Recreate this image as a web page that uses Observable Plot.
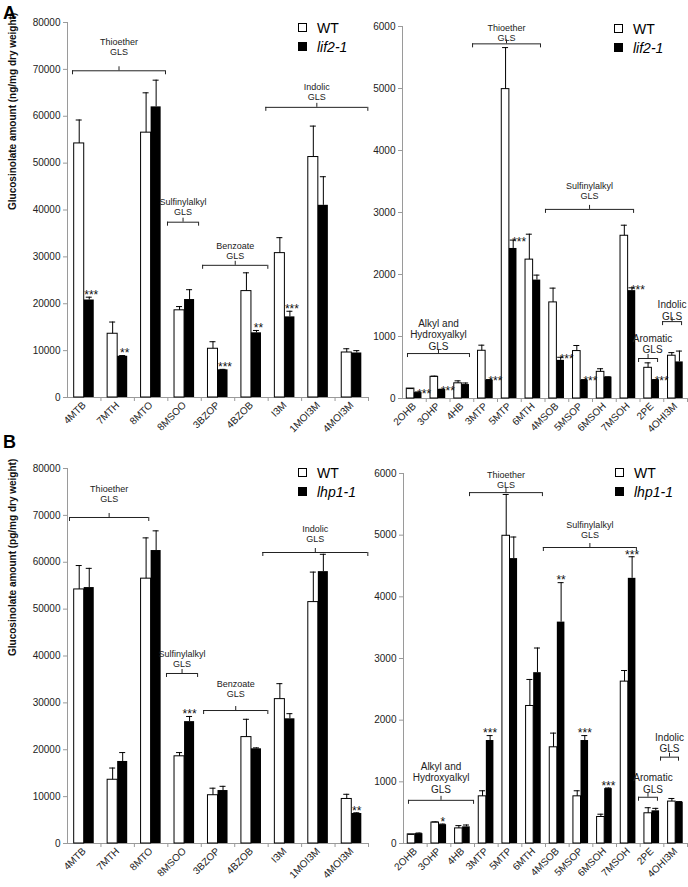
<!DOCTYPE html>
<html><head><meta charset="utf-8">
<script src="https://cdn.jsdelivr.net/npm/d3@7"></script>
<script src="https://cdn.jsdelivr.net/npm/@observablehq/plot@0.6"></script>
<style>
body{margin:0;background:#fff;font-family:"Liberation Sans",Arial,sans-serif;}
#root{position:relative;width:688px;height:887px;overflow:hidden;background:#fff;}
.panel{position:absolute;}
.letter{position:absolute;font-weight:bold;font-size:18px;line-height:18px;color:#000;}
.legend{position:absolute;font-size:14px;color:#000;}
.legend .row{display:flex;align-items:center;height:19px;}
.legend .sq{width:7px;height:7px;border:1px solid #000;margin-right:10px;}
</style></head>
<body><div id="root"></div>
<script>
// ---------- categories ----------
const catsLong = ["4MTB","7MTH","8MTO","8MSOO","3BZOP","4BZOB","I3M","1MOI3M","4MOI3M"];
const catsShort = ["2OHB","3OHP","4HB","3MTP","5MTP","6MTH","4MSOB","5MSOP","6MSOH","7MSOH","2PE","4OHI3M"];
const ticksLong = [0,10000,20000,30000,40000,50000,60000,70000,80000];
const ticksShort = [0,1000,2000,3000,4000,5000,6000];

// ---------- Panel A, long-chain (ng/mg) ----------
const aLongWT     = [54200,13600,56500,18600,10400,22700,30800,51300,9600];
const aLongWTErr  = [5000, 2500, 8500, 800,  1500, 3900, 3300, 6600, 800];
const aLongMut    = [20800,8800, 62000,20900,5900, 13800,17200,41000,9500];
const aLongMutErr = [600,  150,  5700, 2100, 100,  500,  1200, 6100, 500];
const aLongSig    = ["***","**","","","***","**","***","",""];

// ---------- Panel A, short-chain ----------
const aShortWT     = [160,350,245,770,4990,2240,1550,765,430,2625,495,690];
const aShortWTErr  = [0,  10, 40, 90, 670, 410, 230, 90, 50, 170, 80, 50];
const aShortMut    = [95, 145,225,295,2420,1910,615,295,345,1740,300,590];
const aShortMutErr = [10, 5,  25, 10, 135, 80,  50, 10, 5,  45,  5,  175];
const aShortSig    = ["***","***","","***","***","","***","***","","***","***",""];

// ---------- Panel B, long-chain (pg/mg) ----------
const bLongWT     = [54200,13600,56500,18600,10300,22700,30800,51500,9500];
const bLongWTErr  = [5100, 2500, 8700, 800,  1500, 3800, 3300, 6400, 1000];
const bLongMut    = [54600,17500,62500,26000,11300,20200,26600,58000,6400];
const bLongMutErr = [4100, 1900, 4200, 1100, 900,  200,  1100, 3700, 150];
const bLongSig    = ["","","","***","","","","","**"];

// ---------- Panel B, short-chain ----------
const bShortWT     = [148,340,245,765,4990,2230,1560,765,430,2625,490,680];
const bShortWTErr  = [0,  10, 45, 90, 670, 430, 230, 90, 45, 180, 90, 50];
const bShortMut    = [160,305,270,1670,4620,2770,3590,1670,890,4300,530,670];
const bShortMutErr = [10, 10, 30, 80, 350, 400, 640, 80, 10, 350, 40, 10];
const bShortSig    = ["","*","","***","","","**","***","***","***","",""];

// ---------- group brackets (x in category units, y / label level in data units) ----------
const bracketsALong = [
  {label:"Thioether\nGLS", x1:0.15, x2:2.93, y:69700, ly:73100},
  {label:"Sulfinylalkyl\nGLS", x1:2.99, x2:3.92, y:37400, ly:39000},
  {label:"Benzoate\nGLS", x1:4.04, x2:5.99, y:28200, ly:29500},
  {label:"Indolic\nGLS", x1:5.93, x2:8.98, y:61900, ly:63500}
];
const bracketsAShort = [
  {label:"Thioether\nGLS", x1:2.95, x2:5.81, y:5720, ly:5760},
  {label:"Sulfinylalkyl\nGLS", x1:6.02, x2:9.73, y:3050, ly:3210},
  {label:"Alkyl and\nHydroxyalkyl\nGLS", x1:0.21, x2:2.82, y:725, ly:790},
  {label:"Aromatic\nGLS", x1:9.94, x2:10.74, y:645, ly:726, lx:10.53},
  {label:"Indolic\nGLS", x1:10.95, x2:11.75, y:1240, ly:1274}
];
const bracketsBLong = [
  {label:"Thioether\nGLS", x1:0.06, x2:2.43, y:69550, ly:72900},
  {label:"Sulfinylalkyl\nGLS", x1:2.96, x2:3.89, y:36270, ly:37550},
  {label:"Benzoate\nGLS", x1:4.07, x2:5.99, y:28370, ly:31300},
  {label:"Indolic\nGLS", x1:5.84, x2:8.98, y:62080, ly:64400}
];
const bracketsBShort = [
  {label:"Thioether\nGLS", x1:2.79, x2:5.87, y:5690, ly:5760},
  {label:"Sulfinylalkyl\nGLS", x1:5.91, x2:9.84, y:4800, ly:4950},
  {label:"Alkyl and\nHydroxyalkyl\nGLS", x1:0.21, x2:2.96, y:700, ly:827},
  {label:"Aromatic\nGLS", x1:9.93, x2:10.73, y:750, ly:827, lx:10.54},
  {label:"Indolic\nGLS", x1:10.86, x2:11.62, y:1400, ly:1476}
];

const AXIS = "#9a9a9a";
const FONT = "'Liberation Sans', Arial, sans-serif";

function makePanel(o) {
  const n = o.cats.length;
  const rows = o.cats.map((c, i) => ({c, i, wt: o.wt[i], wtE: o.wtErr[i], mu: o.mut[i], muE: o.mutErr[i], sig: o.sig[i]}));
  const band = (o.width - o.marginLeft - o.marginRight) / n;
  const cap = o.capPx / band;
  const inset = o.inset;
  const cW = d => d.i + (inset + 0.5) / 2;
  const cM = d => d.i + (1.5 - inset) / 2;
  const mid = b => (b.x1 + b.x2) / 2;
  const hooks = o.brackets.flatMap(b => [{x: b.x1, y: b.y}, {x: b.x2, y: b.y}]);
  const bigLabel = b => o.bigLabels && !/Thioether|Sulfinyl/.test(b.label);
  const marks = [
    Plot.ruleY([0], {stroke: AXIS}),
    Plot.ruleX([0], {stroke: AXIS}),
    Plot.ruleX(d3.range(1, n + 1), {y1: 0, y2: 0, insetBottom: -4, stroke: AXIS}),
    Plot.axisY({ticks: o.yTicks, tickFormat: d3.format("d"), tickSize: 4, tickPadding: 3, stroke: AXIS, fill: "#222", fontSize: 10, label: null}),
    Plot.axisX({ticks: rows.map(d => d.i + 0.5), tickFormat: t => o.cats[Math.floor(t)], tickSize: 0, tickPadding: 6, tickRotate: -45, fontSize: 10, fill: "#222", label: null}),
    Plot.rect(rows, {x1: d => d.i + inset, x2: d => d.i + 0.5, y1: 0, y2: "wt", fill: "white", stroke: "black", strokeWidth: 1}),
    Plot.rect(rows, {x1: d => d.i + 0.5, x2: d => d.i + 1 - inset, y1: 0, y2: "mu", fill: "black"}),
    Plot.ruleX(rows, {x: cW, y1: "wt", y2: d => d.wt + d.wtE, stroke: "black"}),
    Plot.ruleY(rows, {y: d => d.wt + d.wtE, x1: d => cW(d) - cap, x2: d => cW(d) + cap, stroke: "black"}),
    Plot.ruleX(rows, {x: cM, y1: "mu", y2: d => d.mu + d.muE, stroke: "black"}),
    Plot.ruleY(rows, {y: d => d.mu + d.muE, x1: d => cM(d) - cap, x2: d => cM(d) + cap, stroke: "black"}),
    Plot.text(rows.filter(d => d.sig), {x: cM, y: d => d.mu + d.muE, text: "sig", dx: o.sigDx, dy: o.sigDy, fontSize: 12, fill: "#111"}),
    Plot.ruleY(o.brackets, {y: "y", x1: "x1", x2: "x2", stroke: "#222"}),
    Plot.ruleX(hooks, {x: "x", y1: "y", y2: "y", insetBottom: -4, stroke: "#222"}),
    Plot.ruleX(o.brackets, {x: mid, y1: "y", y2: "y", insetTop: -4, stroke: "#222"}),
    Plot.text(o.brackets, {x: b => b.lx ?? mid(b), y: "ly", text: "label", lineAnchor: "bottom", lineHeight: 1.12,
      fontSize: b => bigLabel(b) ? 10 : 9, fill: "#222"})
  ];
  if (o.yLabel) {
    marks.push(Plot.text([o.yLabel], {frameAnchor: "left", dx: o.titleDx, rotate: -90, fontWeight: "bold", fontSize: 10, fill: "#111"}));
  }
  return Plot.plot({
    width: o.width, height: o.height,
    marginLeft: o.marginLeft, marginRight: o.marginRight, marginTop: o.marginTop, marginBottom: o.marginBottom,
    style: {background: "transparent", overflow: "visible", fontFamily: FONT},
    x: {type: "linear", domain: [0, n]},
    y: {type: "linear", domain: [0, o.yMax]},
    marks
  });
}

const root = document.getElementById("root");
function place(el, left, top) {
  const d = document.createElement("div");
  d.className = "panel";
  d.style.left = left + "px"; d.style.top = top + "px";
  d.appendChild(el);
  root.appendChild(d);
}
function legend(left, top, mutant) {
  const d = document.createElement("div");
  d.className = "legend";
  d.style.left = left + "px"; d.style.top = top + "px";
  d.innerHTML = `<div class="row"><div class="sq" style="background:#fff"></div><span>WT</span></div>` +
                `<div class="row"><div class="sq" style="background:#000"></div><span style="font-style:italic">${mutant}</span></div>`;
  root.appendChild(d);
}
function letter(txt, left, top) {
  const d = document.createElement("div");
  d.className = "letter"; d.textContent = txt;
  d.style.left = left + "px"; d.style.top = top + "px";
  root.appendChild(d);
}

const leftGeom = {width: 372, marginLeft: 67, marginRight: 4, inset: 0.2, capPx: 3, yMax: 80000, yTicks: ticksLong, titleDx: -55};
const rightGeom = {width: 348, marginLeft: 62, marginRight: 1, inset: 0.18, capPx: 3, yMax: 6000, yTicks: ticksShort};

place(makePanel({...leftGeom, height: 440, marginTop: 22, marginBottom: 43,
  cats: catsLong, wt: aLongWT, wtErr: aLongWTErr, mut: aLongMut, mutErr: aLongMutErr, sig: aLongSig,
  brackets: bracketsALong, sigDx: 2, sigDy: -2, yLabel: "Glucosinolate amount (ng/mg dry weight)"}), 0, 0);
place(makePanel({...rightGeom, height: 440, marginTop: 26, marginBottom: 42,
  cats: catsShort, wt: aShortWT, wtErr: aShortWTErr, mut: aShortMut, mutErr: aShortMutErr, sig: aShortSig,
  brackets: bracketsAShort, sigDx: 6, sigDy: 2, bigLabels: true}), 340, 0);
place(makePanel({...leftGeom, height: 441, marginTop: 22, marginBottom: 44,
  cats: catsLong, wt: bLongWT, wtErr: bLongWTErr, mut: bLongMut, mutErr: bLongMutErr, sig: bLongSig,
  brackets: bracketsBLong, sigDx: 0, sigDy: -2, yLabel: "Glucosinolate amount (pg/mg dry weight)"}), 0, 446);
place(makePanel({...rightGeom, marginLeft: 63, height: 441, marginTop: 27, marginBottom: 44,
  cats: catsShort, wt: bShortWT, wtErr: bShortWTErr, mut: bShortMut, mutErr: bShortMutErr, sig: bShortSig,
  brackets: bracketsBShort, sigDx: 0, sigDy: -2, bigLabels: true}), 340, 446);

legend(298, 18, "lif2-1");
legend(614, 19, "lif2-1");
legend(298, 463, "lhp1-1");
legend(615, 463, "lhp1-1");
letter("A", 3, 4);
letter("B", 3, 433);
</script>
</body></html>
